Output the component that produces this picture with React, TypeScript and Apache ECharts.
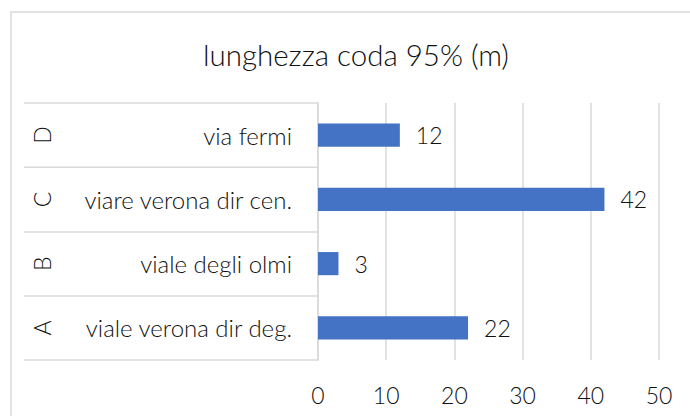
import React, { useEffect, useRef } from "react";
import * as echarts from "echarts";

const titleText = "lunghezza coda 95% (m)";
const groups = ["A", "B", "C", "D"];
const categories = [
  "viale verona dir deg.",
  "viale degli olmi",
  "viare verona dir cen.",
  "via fermi",
];
const values = [22, 3, 42, 12];
const xMin = 0;
const xMax = 50;
const xInterval = 10;

const FONT = "Lato, 'Open Sans', sans-serif";
const TEXT = "#111111";
const GRID = "#d9d9d9";
const WEIGHT = 300;

export default function App() {
  const ref = useRef<HTMLDivElement>(null);
  useEffect(() => {
    if (!ref.current) return;
    const chart = echarts.init(ref.current, null, { renderer: "svg" });
    chart.setOption({
      animation: false,
      backgroundColor: "#ffffff",
      title: {
        text: titleText,
        left: 198,
        top: 34,
        textStyle: { fontFamily: FONT, fontSize: 29.5, fontWeight: WEIGHT, color: TEXT },
      },
      graphic: [
        {
          type: "rect",
          shape: { x: 11, y: 12, width: 720, height: 440 },
          style: { fill: "none", stroke: GRID, lineWidth: 1.5 },
          silent: true,
        },
      ],
      grid: { left: 318, right: 31, top: 103, bottom: 56 },
      xAxis: {
        type: "value",
        min: xMin,
        max: xMax,
        interval: xInterval,
        axisLine: { show: false },
        axisTick: { show: false },
        splitLine: { show: true, lineStyle: { color: GRID, width: 1.5 } },
        axisLabel: { fontFamily: FONT, fontSize: 23, fontWeight: WEIGHT, color: TEXT, margin: 23 },
      },
      yAxis: [
        {
          type: "category",
          data: categories,
          position: "left",
          axisLine: { show: true, lineStyle: { color: GRID, width: 1.5 } },
          axisTick: { show: true, interval: 0, length: 294, lineStyle: { color: GRID, width: 1.5 } },
          axisLabel: { fontFamily: FONT, fontSize: 24, fontWeight: WEIGHT, color: TEXT, margin: 26, interval: 0 },
        },
        {
          type: "category",
          data: groups,
          position: "left",
          axisLine: { show: false },
          axisTick: { show: false },
          splitLine: { show: false },
          axisLabel: {
            fontFamily: FONT,
            fontSize: 23,
            fontWeight: WEIGHT,
            color: TEXT,
            rotate: 90,
            margin: 276,
            align: "center",
            verticalAlign: "middle",
            interval: 0,
          },
        },
      ],
      series: [
        {
          type: "bar",
          data: values,
          yAxisIndex: 0,
          barWidth: "36%",
          itemStyle: { color: "#4472c4" },
          label: {
            show: true,
            position: "right",
            distance: 16,
            fontFamily: FONT,
            fontSize: 23,
            fontWeight: WEIGHT,
            color: TEXT,
          },
        },
      ],
    });
    return () => chart.dispose();
  }, []);
  return (
    <div
      ref={ref}
      style={{ position: "fixed", left: 0, top: 0, width: 690, height: 416 }}
    />
  );
}
